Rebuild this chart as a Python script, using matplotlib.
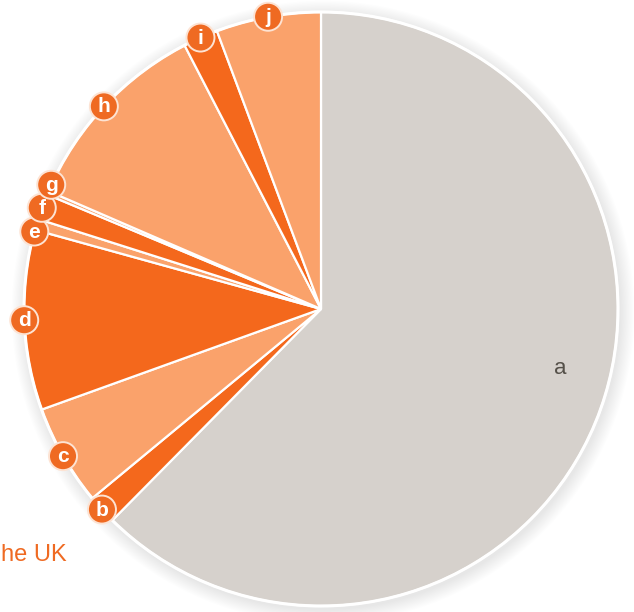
import matplotlib
matplotlib.use("Agg")
import matplotlib.pyplot as plt
from matplotlib.patches import Circle
import numpy as np

# Share of each segment (percent), clockwise from 12 o'clock
labels = ["a", "b", "c", "d", "e", "f", "g", "h", "i", "j"]
shares = [62.4, 1.6, 5.5, 9.8, 0.6, 1.4, 0.2, 10.9, 1.9, 5.7]

GREY = "#d6d1cc"
LIGHT = "#faa26b"
DARK = "#f4681c"
BADGE = "#ef6a22"
slice_colors = [GREY, DARK, LIGHT, DARK, LIGHT, DARK, LIGHT, LIGHT, DARK, LIGHT]

W, H = 634, 612
fig = plt.figure(figsize=(W / 100, H / 100), dpi=100)
ax = fig.add_axes([0, 0, 1, 1])

cx, cy, R = 321, 303, 297

# faint shadow around the pie
for k in range(12):
    r = R + 1 + k * 1.2
    ax.add_patch(Circle((cx + 2, cy - 3), r, facecolor="#a8aab4",
                        alpha=0.018, edgecolor="none", zorder=0))

ax.pie(shares, colors=slice_colors, startangle=90, counterclock=False,
       center=(cx, cy), radius=R, frame=True,
       wedgeprops=dict(edgecolor="white", linewidth=1.6))
ax.set_xlim(0, W)
ax.set_ylim(0, H)
ax.set_aspect("equal")
ax.axis("off")
ax.add_patch(Circle((cx, cy), R, facecolor="none", edgecolor="white",
                    linewidth=2.2, zorder=3))

# mid-angle of each slice, measured clockwise from the top
cum = np.cumsum([0] + shares)
total = cum[-1]
mids = [(cum[i] + cum[i + 1]) / 2 / total * 360 for i in range(len(shares))]

# spread crowded badges so they do not overlap
ang = list(mids[1:])
min_gap = 4.8
for _ in range(200):
    moved = False
    for i in range(len(ang) - 1):
        gap = ang[i + 1] - ang[i]
        if gap < min_gap:
            d = (min_gap - gap) / 2
            ang[i] -= d
            ang[i + 1] += d
            moved = True
    if not moved:
        break

for lab, a_cw in zip(labels[1:], ang):
    t = np.deg2rad(90 - a_cw)
    x, y = cx + R * np.cos(t), cy + R * np.sin(t)
    ax.add_patch(Circle((x, y), 14, facecolor=BADGE, edgecolor="#fde3d3",
                        linewidth=1.4, zorder=5))
    ax.text(x, y - 0.5, lab, color="white", fontsize=15, fontweight="bold",
            family="Liberation Sans", ha="center", va="center", zorder=6)

# label for the large grey slice
ax.text(560, H - 369, labels[0], color="#555049", fontsize=16,
        family="Liberation Sans", ha="center", va="center", zorder=6)

ax.text(1, H - 555, "he UK", color="#ef6a22", fontsize=17,
        family="Liberation Sans", ha="left", va="center")

fig.savefig("out.png", dpi=100, facecolor="white")
